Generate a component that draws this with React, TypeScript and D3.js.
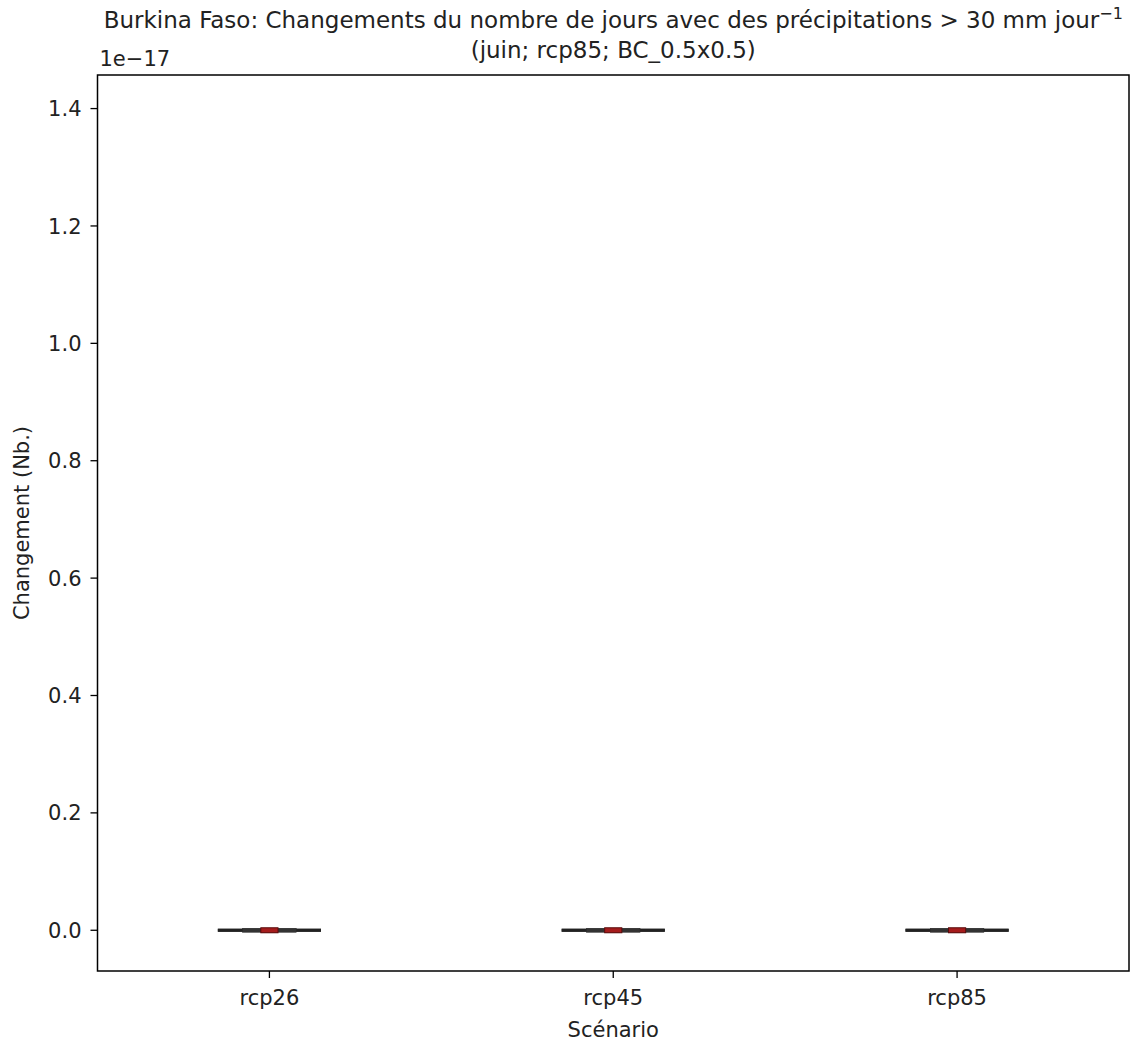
import React from "react";
import * as d3 from "d3";

const scenarios = ["rcp26", "rcp45", "rcp85"];
const whiskerLow = [0, 0, 0];
const q1 = [0, 0, 0];
const median = [0, 0, 0];
const q3 = [0, 0, 0];
const whiskerHigh = [0, 0, 0];
const yTicks = [0.0, 0.2, 0.4, 0.6, 0.8, 1.0, 1.2, 1.4];
const yScaleFactor = 1e-17;
const yDomain = [-0.0694, 1.4572];

const W = 1134;
const H = 1043;
const left = 97.5;
const right = 1129;
const top = 75;
const bottom = 971;
const font = "DejaVu Sans, sans-serif";

export default function App() {
  const x = d3.scaleLinear().domain([0.5, scenarios.length + 0.5]).range([left, right]);
  const y = d3
    .scaleLinear()
    .domain([yDomain[0] * yScaleFactor, yDomain[1] * yScaleFactor])
    .range([bottom, top]);
  const fs = 21;
  const tfs = 23;
  return (
    <div style={{ position: "absolute", left: 0, top: 0 }}>
      <svg width={W} height={H} style={{ display: "block", background: "#fff" }}>
        {scenarios.map((s, i) => {
          const cx = x(i + 1);
          const capW = x(1.15) - x(1);
          const boxW = x(1.078) - x(1);
          const medW = x(1.025) - x(1);
          const yl = y(whiskerLow[i]);
          const yh = y(whiskerHigh[i]);
          const yq1 = y(q1[i]);
          const yq3 = y(q3[i]);
          const ym = y(median[i]);
          return (
            <g key={s}>
              <line x1={cx - capW} x2={cx + capW} y1={yl} y2={yl} stroke="#222" strokeWidth={3} />
              <line x1={cx - capW} x2={cx + capW} y1={yh} y2={yh} stroke="#222" strokeWidth={3} />
              <line x1={cx} x2={cx} y1={yl} y2={yq1} stroke="#222" strokeWidth={3} />
              <line x1={cx} x2={cx} y1={yq3} y2={yh} stroke="#222" strokeWidth={3} />
              <rect
                x={cx - boxW}
                width={2 * boxW}
                y={Math.min(yq1, yq3) - 2}
                height={Math.abs(yq1 - yq3) + 4}
                fill="#333"
                stroke="#2a2a2a"
                strokeWidth={0.5}
              />
              <rect
                x={cx - medW}
                width={2 * medW}
                y={ym - 2.5}
                height={5}
                fill="#a51c1c"
                stroke="#5a0c0c"
                strokeWidth={1}
              />
            </g>
          );
        })}
        <rect x={left} y={top} width={right - left} height={bottom - top} fill="none" stroke="#000" strokeWidth={1.5} />
        {yTicks.map((t) => (
          <g key={t} transform={`translate(0,${y(t * yScaleFactor)})`}>
            <line x1={left - 7} x2={left} stroke="#000" strokeWidth={1.3} />
            <text x={left - 16} dy="0.36em" textAnchor="end" fontFamily={font} fontSize={fs} fill="#222">
              {t.toFixed(1)}
            </text>
          </g>
        ))}
        {scenarios.map((s, i) => (
          <g key={s} transform={`translate(${x(i + 1)},${bottom})`}>
            <line y1={0} y2={7} stroke="#000" strokeWidth={1.3} />
            <text y={34} textAnchor="middle" fontFamily={font} fontSize={fs} fill="#222">
              {s}
            </text>
          </g>
        ))}
        <text x={left + 2} y={66} fontFamily={font} fontSize={fs} fill="#222">
          1e−17
        </text>
        <text x={(left + right) / 2} y={1037} textAnchor="middle" fontFamily={font} fontSize={fs} fill="#222">
          Scénario
        </text>
        <text
          transform={`translate(29,${(top + bottom) / 2}) rotate(-90)`}
          textAnchor="middle"
          fontFamily={font}
          fontSize={fs}
          fill="#222"
        >
          Changement (Nb.)
        </text>
        <text x={(left + right) / 2} y={28} textAnchor="middle" fontFamily={font} fontSize={tfs} fill="#222">
          Burkina Faso: Changements du nombre de jours avec des précipitations {">"} 30 mm jour
          <tspan dy={-9} fontSize={16}>−1</tspan>
        </text>
        <text x={(left + right) / 2} y={58} textAnchor="middle" fontFamily={font} fontSize={tfs} fill="#222">
          (juin; rcp85; BC_0.5x0.5)
        </text>
      </svg>
    </div>
  );
}
